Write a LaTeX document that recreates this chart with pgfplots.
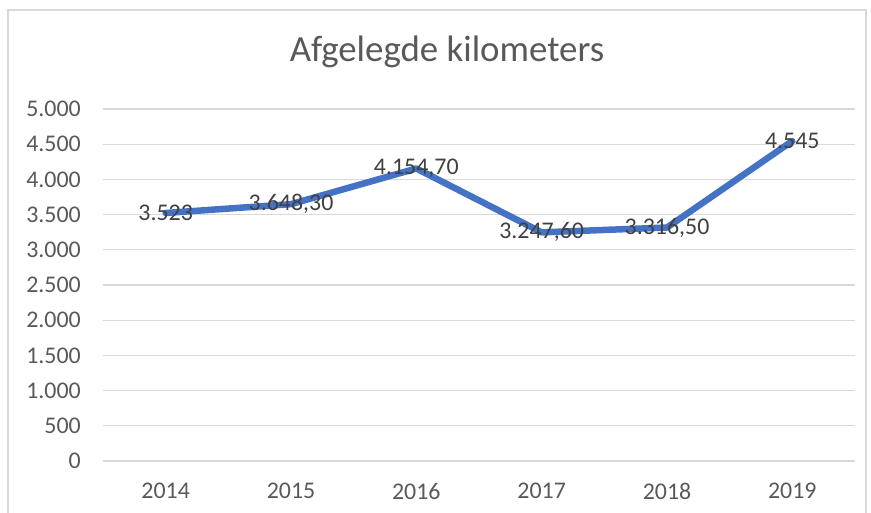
\documentclass[border=0pt]{standalone}
\usepackage{fontspec}
\setmainfont{Carlito}
\usepackage{pgfplots}
\pgfplotsset{compat=1.18}
\definecolor{lineblue}{HTML}{4472C4}
\definecolor{gridgray}{HTML}{D9D9D9}
\definecolor{tickgray}{HTML}{595959}
\definecolor{labelgray}{HTML}{404040}

\begin{document}
\begin{tikzpicture}
\useasboundingbox (-103bp,-52bp) rectangle (768bp,461bp);
% chart frame (bottom edge falls outside the picture)
\draw[gridgray, line width=1.2bp] (-95bp,-70bp) rectangle (763bp,451bp);
\begin{axis}[
    at={(0,0)}, anchor=south west,
    scale only axis, width=752bp, height=352bp,
    xmin=-0.5, xmax=5.5, ymin=0, ymax=5000,
    xtick={0,...,5}, xticklabels={2014,2015,2016,2017,2018,2019},
    ytick={0,500,...,5000},
    axis line style={draw=none},
    major tick length=0pt,
    ymajorgrids, grid style={gridgray, line width=1.3bp},
    tick label style={font=\fontsize{24}{28}\selectfont, text=tickgray, inner sep=0pt},
    xticklabel style={anchor=north, yshift=-22bp},
    yticklabel style={anchor=east, xshift=-22bp,
        /pgf/number format/1000 sep={.},
        /pgf/number format/assume math mode=true},
    title={Afgelegde kilometers},
    title style={at={(0.4574,1.1193)}, anchor=base, inner sep=0pt,
        font=\fontsize{37}{44}\selectfont, text=tickgray},
    clip=false,
]
\addplot[lineblue, line width=6.5bp, line join=round, line cap=round,
    nodes near coords, point meta=explicit symbolic,
    every node near coord/.append style={anchor=center, inner sep=0pt,
        font=\fontsize{24}{28}\selectfont, text=labelgray}]
table[meta=label] {
x y label
0 3523 3.523
1 3648.30 3.648,30
2 4154.70 4.154,70
3 3247.60 3.247,60
4 3316.50 3.316,50
5 4545 4.545
};
\end{axis}
\end{tikzpicture}
\end{document}
